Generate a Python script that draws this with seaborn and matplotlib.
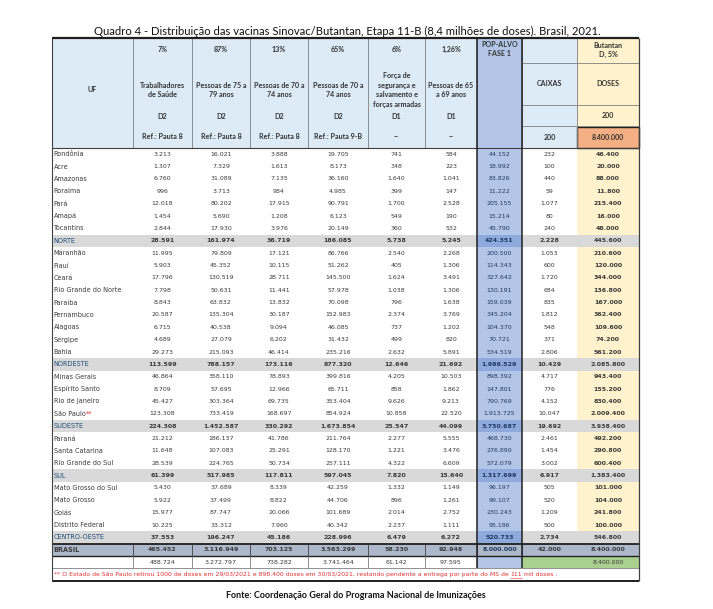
import matplotlib
matplotlib.use("Agg")
import matplotlib.pyplot as plt
import seaborn as sns
from matplotlib.patches import Rectangle

# table data read from Quadro 4 (Sinovac/Butantan, Etapa 11-B)
uf = ["Rondônia", "Acre", "Amazonas", "Roraima", "Pará", "Amapá", "Tocantins", "NORTE",
      "Maranhão", "Piauí", "Ceará", "Rio Grande do Norte", "Paraíba", "Pernambuco", "Alagoas",
      "Sergipe", "Bahia", "NORDESTE",
      "Minas Gerais", "Espírito Santo", "Rio de Janeiro", "São Paulo", "SUDESTE",
      "Paraná", "Santa Catarina", "Rio Grande do Sul", "SUL",
      "Mato Grosso do Sul", "Mato Grosso", "Goiás", "Distrito Federal", "CENTRO-OESTE",
      "BRASIL"]
regions = ["NORTE", "NORDESTE", "SUDESTE", "SUL", "CENTRO-OESTE"]

trab_saude = [3213, 1307, 6760, 996, 12018, 1454, 2844, 28591,
              11995, 5903, 17796, 7798, 8843, 20587, 6715, 4689, 29273, 113599,
              46864, 8709, 45427, 123308, 224308,
              21212, 11648, 28539, 61399,
              5430, 5922, 15977, 10225, 37553, 465452]
p75_79 = [16021, 7329, 31089, 3713, 80202, 5690, 17930, 161974,
          79809, 45352, 130519, 50631, 63832, 135304, 40538, 27079, 215093, 788157,
          358110, 57695, 303364, 733419, 1452587,
          186137, 107083, 224765, 517985,
          37689, 37499, 87747, 33312, 196247, 3116949]
p70_74_a = [3888, 1613, 7135, 984, 17915, 1208, 3976, 36719,
            17121, 10115, 28711, 11441, 13832, 30187, 9094, 6202, 46414, 173116,
            78893, 12966, 69735, 168697, 330292,
            41786, 25291, 50734, 117811,
            8339, 8822, 20066, 7960, 45186, 703125]
p70_74_b = [19705, 8173, 36160, 4985, 90791, 6123, 20149, 186085,
            86766, 51262, 145500, 57978, 70098, 152983, 46085, 31432, 235216, 877320,
            399816, 65711, 353404, 854924, 1673854,
            211764, 128170, 257111, 597045,
            42259, 44706, 101689, 40342, 228996, 3563299]
forcas = [741, 348, 1640, 399, 1700, 549, 360, 5738,
          2540, 405, 1624, 1038, 796, 2374, 737, 499, 2632, 12646,
          4205, 858, 9626, 10858, 25547,
          2277, 1221, 4322, 7820,
          1332, 896, 2014, 2237, 6479, 58230]
p65_69 = [584, 223, 1041, 147, 2528, 190, 532, 5245,
          2268, 1306, 3491, 1306, 1638, 3769, 1202, 820, 5891, 21692,
          10503, 1862, 9213, 22520, 44099,
          5555, 3476, 6609, 15640,
          1149, 1261, 2752, 1111, 6272, 92948]
pop_alvo = [44152, 18992, 83826, 11222, 205155, 15214, 45790, 424351,
            200500, 114343, 327642, 130191, 159039, 345204, 104370, 70721, 534519, 1986529,
            898392, 147801, 790769, 1913725, 3750687,
            468730, 276890, 572079, 1317699,
            96197, 99107, 230243, 95186, 520733, 8000000]
caixas = [232, 100, 440, 59, 1077, 80, 240, 2228,
          1053, 600, 1720, 684, 835, 1812, 548, 371, 2806, 10429,
          4717, 776, 4152, 10047, 19692,
          2461, 1454, 3002, 6917,
          505, 520, 1209, 500, 2734, 42000]
doses = [46400, 20000, 88000, 11800, 215400, 16000, 48000, 445600,
         210600, 120000, 344000, 136800, 167000, 362400, 109600, 74200, 561200, 2085800,
         943400, 155200, 830400, 2009400, 3938400,
         492200, 290800, 600400, 1383400,
         101000, 104000, 241800, 100000, 546800, 8400000]
extra_row = [488724, 3272797, 738282, 3741464, 61142, 97595]
extra_total = 8400000

pct_labels = ["7%", "87%", "13%", "65%", "6%", "1,26%"]
group_labels = ["Trabalhadores\nde Saúde", "Pessoas de 75 a\n79 anos", "Pessoas de 70 a\n74 anos",
                "Pessoas de 70 a\n74 anos", "Força de\nsegurança e\nsalvamento e\nforças armadas",
                "Pessoas de 65\na 69 anos"]
dose_labels = ["D2", "D2", "D2", "D2", "D1", "D1"]
ref_labels = ["Ref.: Pauta 8", "Ref.: Pauta 8", "Ref.: Pauta 8", "Ref.: Pauta 9-B", "--", "--"]

title = "Quadro 4 - Distribuição das vacinas Sinovac/Butantan, Etapa 11-B (8,4 milhões de doses). Brasil, 2021."
note_a = "** O Estado de São Paulo retirou 1000 de doses em 29/03/2021 e 898.400 doses em 30/03/2021, restando pendente a entrega por parte do MS de "
note_b = "111"
note_c = " mil doses ."
source = "Fonte: Coordenação Geral do Programa Nacional de Imunizações"


def fmt(v):
    return f"{v:,}".replace(",", ".")


sns.set_theme(style="white")
plt.rcParams['font.family'] = ['DejaVu Sans']
HEAD_FONT = ['Lato', 'DejaVu Sans']
BODY_FS = 4.5
NAME_FS = 4.7

c_head = "#DDEBF7"
c_pop = "#B4C6E7"
c_pop_dark = "#8EA9DB"
c_dose = "#FFF2CC"
c_orange = "#F4B084"
c_region = "#D9D9D9"
c_brasil = "#ADB9CA"
c_green = "#A9D08E"
c_line = "#7F7F7F"
c_text = "#3A3A3A"

# layout (pixels)
xs = [52, 133, 192, 250, 308, 368, 425, 477, 522, 577, 639]
top, head_bot = 38, 148.1
row_h = 12.36

fig = plt.figure(figsize=(7.13, 6.09), dpi=100)
ax = fig.add_axes([0, 0, 1, 1])
ax.set_xlim(0, 713)
ax.set_ylim(609, 0)
ax.axis('off')


def box(x0, x1, y0, y1, color):
    ax.add_patch(Rectangle((x0, y0), x1 - x0, y1 - y0, facecolor=color, edgecolor='none', lw=0))


def hline(x0, x1, y, lw=0.6, color=c_line):
    ax.plot([x0, x1], [y, y], color=color, lw=lw, solid_capstyle='butt')


def vline(x, y0, y1, lw=0.6, color=c_line):
    ax.plot([x, x], [y0, y1], color=color, lw=lw, solid_capstyle='butt')


def cx(i):
    return (xs[i] + xs[i + 1]) / 2


ax.text(347, 31, title, ha='center', va='center', fontsize=8.15, family=HEAD_FONT, color='#111111')

# ---- header ----
box(xs[0], xs[7], top, head_bot, c_head)
box(xs[7], xs[8], top, head_bot, c_pop)
box(xs[8], xs[9], top, head_bot, c_head)
box(xs[9], xs[10], top, head_bot, c_dose)
box(xs[9], xs[10], 127, head_bot, c_orange)

hdr = dict(ha='center', va='center', fontsize=5.1, family=HEAD_FONT, fontweight='bold', color='#333333')
ax.text(cx(0), 90, "UF", **hdr)
for i in range(6):
    ax.text(cx(i + 1), 49, pct_labels[i], **hdr)
    ax.text(cx(i + 1), 90, group_labels[i], linespacing=1.4, **hdr)
    ax.text(cx(i + 1), 116.7, dose_labels[i], **hdr)
    ax.text(cx(i + 1), 136.7, ref_labels[i], **hdr)
ax.text(cx(7), 41, "POP-ALVO\nFASE 1", linespacing=1.35, **{**hdr, 'va': 'top'})
ax.text(cx(8), 84, "CAIXAS", **hdr)
ax.text(cx(8), 137, "200", **hdr)
ax.text(cx(9), 50, "Butantan\nD, 5%", linespacing=1.35, **hdr)
ax.text(cx(9), 84, "DOSES", **hdr)
ax.text(cx(9), 116, "200", **hdr)
ax.text(cx(9), 137, fmt(doses[-1]), **hdr)

for x in xs[1:-1]:
    vline(x, top, head_bot)
for y in [62.7, 105, 126]:
    hline(xs[8], xs[10], y)
hline(xs[0], xs[10], head_bot, lw=0.8, color='#404040')

# ---- body ----
value_cols = [trab_saude, p75_79, p70_74_a, p70_74_b, forcas, p65_69, pop_alvo, caixas, doses]
for r, name in enumerate(uf):
    y0 = head_bot + r * row_h
    yc = y0 + row_h / 2
    is_region = name in regions
    is_brasil = name == "BRASIL"
    if is_brasil:
        box(xs[0], xs[10], y0, y0 + row_h, c_brasil)
    elif is_region:
        box(xs[0], xs[10], y0, y0 + row_h, c_region)
        box(xs[7], xs[8], y0, y0 + row_h, c_pop_dark)
    else:
        box(xs[7], xs[8], y0, y0 + row_h, c_pop)
        box(xs[9], xs[10], y0, y0 + row_h, c_dose)

    bold = is_region or is_brasil
    name_color = '#1F4E79' if is_region else c_text
    t = ax.text(xs[0] + 1.5, yc, name, ha='left', va='center', fontsize=NAME_FS,
                fontweight='bold' if is_brasil else 'normal', color=name_color)
    if name == "São Paulo":
        fig.canvas.draw()
        bb = t.get_window_extent()
        x_end = ax.transData.inverted().transform((bb.x1, bb.y0))[0]
        ax.text(x_end + 0.5, yc, "**", ha='left', va='center', fontsize=NAME_FS, color='#E03030')
    for c, col in enumerate(value_cols):
        color = '#203864' if c == 6 else c_text
        weight = 'bold' if (bold or c == 8) else 'normal'
        ax.text(cx(c + 1), yc, fmt(col[r]), ha='center', va='center', fontsize=BODY_FS,
                fontweight=weight, color=color)

# BRASIL row borders
yb0 = head_bot + 32 * row_h
hline(xs[0], xs[10], yb0, lw=1.3, color='#202020')
hline(xs[0], xs[10], yb0 + row_h, lw=1.0, color='#202020')
for x in xs[1:-1]:
    if x != xs[9]:
        vline(x, yb0, yb0 + row_h, lw=0.6, color='#404040')

# extra totals row
ye0 = yb0 + row_h
ye1 = ye0 + row_h
box(xs[7], xs[8], ye0, ye1, c_pop)
box(xs[8], xs[10], ye0, ye1, c_green)
for i, v in enumerate(extra_row):
    ax.text(cx(i + 1), (ye0 + ye1) / 2, fmt(v), ha='center', va='center', fontsize=BODY_FS, color=c_text)
ax.text(cx(9), (ye0 + ye1) / 2, fmt(extra_total), ha='center', va='center', fontsize=BODY_FS, color=c_text)
for x in xs[1:8]:
    vline(x, ye0, ye1, lw=0.6)
hline(xs[0], xs[10], ye1, lw=0.6)

# footnote row
yn = ye1 + row_h / 2
parts = [(note_a, False), (note_b, True), (note_c, False)]
x_cur = xs[0] + 1.5
for txt, underline in parts:
    t = ax.text(x_cur, yn, txt, ha='left', va='center', fontsize=4.4, color='#E03030')
    fig.canvas.draw()
    bb = t.get_window_extent()
    inv = ax.transData.inverted()
    x_end = inv.transform((bb.x1, bb.y0))[0]
    if underline:
        hline(x_cur, x_end, yn + 3.0, lw=0.4, color='#E03030')
    x_cur = x_end
hline(xs[0], xs[10], ye1 + row_h, lw=1.4, color='#202020')

# outer frame and thick lines
hline(xs[0], xs[10], top, lw=1.6, color='#202020')
vline(xs[0], top, ye1 + row_h, lw=0.8, color='#404040')
vline(xs[10], top, ye1 + row_h, lw=0.9, color='#404040')
vline(xs[7], top, ye1, lw=1.1, color='#202020')
vline(xs[8], top, ye1, lw=1.1, color='#202020')
ax.add_patch(Rectangle((xs[9], 127), xs[10] - xs[9], head_bot - 127, facecolor='none',
                       edgecolor='#202020', lw=1.0))

ax.text(356, 595, source, ha='center', va='center', fontsize=6.5, family=HEAD_FONT,
        fontweight='bold', color='#111111')

fig.savefig("out.png", dpi=100)
